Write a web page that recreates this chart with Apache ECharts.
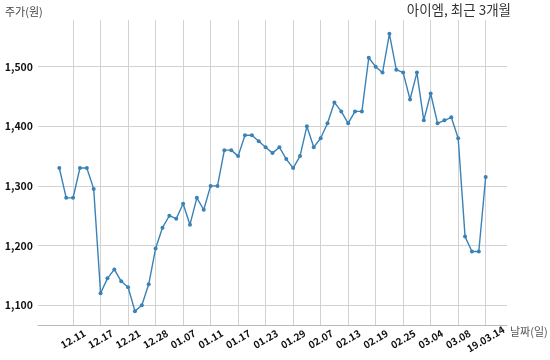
<!DOCTYPE html>
<html>
<head>
<meta charset="utf-8">
<script src="https://cdn.jsdelivr.net/npm/echarts@6/dist/echarts.min.js"></script>
<style>html,body{margin:0;padding:0;background:#fff}#c{width:550px;height:360px}</style>
</head>
<body>
<div id="c"></div>
<script>
var dates = ["12.07","12.10","12.11","12.12","12.13","12.14","12.17","12.18","12.19","12.20","12.21","12.24","12.26","12.27","12.28",
"01.02","01.03","01.04","01.07","01.08","01.09","01.10","01.11","01.14","01.15","01.16","01.17","01.18","01.21","01.22","01.23","01.24","01.25","01.28","01.29","01.30","01.31",
"02.01","02.07","02.08","02.11","02.12","02.13","02.14","02.15","02.18","02.19","02.20","02.21","02.22","02.25","02.26","02.27","02.28",
"03.04","03.05","03.06","03.07","03.08","03.11","03.12","03.13","19.03.14"];
var prices = [1330,1280,1280,1330,1330,1295,1120,1145,1160,1140,1130,1090,1100,1135,1195,
1230,1250,1245,1270,1235,1280,1260,1300,1300,1360,1360,1350,1385,1385,1375,1365,1355,1365,1345,1330,1350,1400,
1365,1380,1405,1440,1425,1405,1425,1425,1515,1500,1490,1555,1495,1490,1445,1490,1410,
1455,1405,1410,1415,1380,1215,1190,1190,1315];
var tickIdx = [2,6,10,14,18,22,26,30,34,38,42,46,50,54,58,62];
var yTicks = [1100,1200,1300,1400,1500];
var title = "아이엠, 최근 3개월";
var yName = "주가(원)";
var xName = "날짜(일)";

var n = prices.length;
var pMin = Math.min.apply(null, prices), pMax = Math.max.apply(null, prices);
var yPad = (pMax - pMin) * 0.05, xPad = (n - 1) * 0.05;
var font = '"Noto Sans CJK KR","Noto Sans",sans-serif';
var chart = echarts.init(document.getElementById('c'));
chart.setOption({
  animation: false,
  backgroundColor: '#fff',
  grid: {left: 38, right: 43, top: 20, bottom: 35},
  graphic: [
    {type:'text', left: 5, top: 6, style:{text: yName, font: '11px ' + font, fill:'#444'}},
    {type:'text', right: 39, top: 3, style:{text: title, font: '13.5px ' + font, fill:'#333'}},
    {type:'text', left: 510, top: 326, style:{text: xName, font: '11px ' + font, fill:'#555'}}
  ],
  xAxis: {
    type: 'value', min: -xPad, max: n - 1 + xPad,
    axisLine: {show: true, lineStyle: {color: '#bbb', width: 1}},
    axisTick: {show: false, customValues: tickIdx},
    splitLine: {show: true, lineStyle: {color: '#d2d2d2', width: 1}},
    axisLabel: {customValues: tickIdx, rotate: 30, align: 'center', verticalAlign: 'middle', margin: 14,
      fontFamily: font, fontSize: 10, fontWeight: 'bold', color: '#111',
      formatter: function(v){ return dates[Math.round(v)]; }}
  },
  yAxis: {
    type: 'value', min: pMin - yPad, max: pMax + yPad,
    axisLine: {show: false}, 
    axisTick: {show: false, customValues: yTicks},
    splitLine: {show: true, lineStyle: {color: '#d2d2d2', width: 1}},
    axisLabel: {customValues: yTicks, margin: 5, fontFamily: font, fontSize: 10.5, fontWeight: 'bold', color: '#111',
      formatter: function(v){ return v.toLocaleString('en-US'); }}
  },
  series: [{
    type: 'line',
    data: prices.map(function(v, i){ return [i, v]; }),
    symbol: 'circle', symbolSize: 4, showSymbol: true,
    lineStyle: {color: '#3a82b6', width: 1.4},
    itemStyle: {color: '#3a82b6'}
  }]
});
</script>
</body>
</html>
